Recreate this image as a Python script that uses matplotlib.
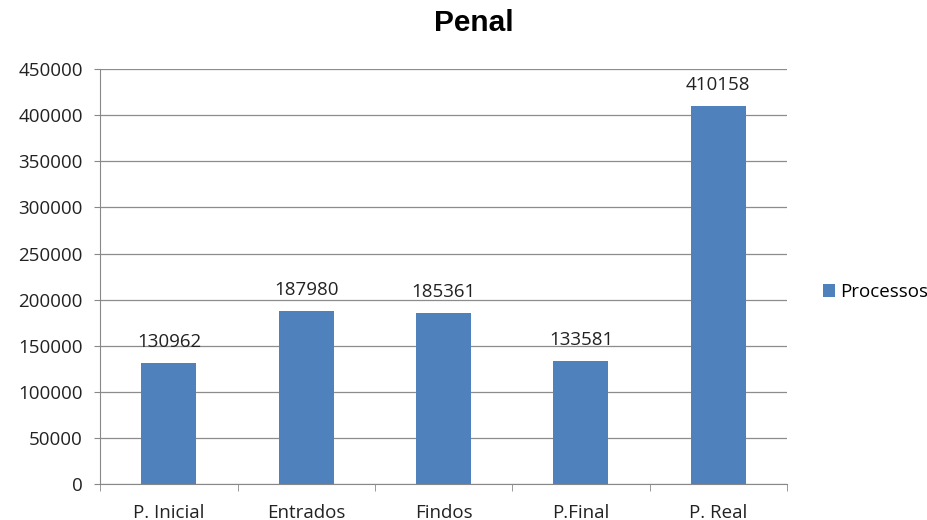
import matplotlib
matplotlib.use('Agg')
import matplotlib.pyplot as plt
import numpy as np

# Data
categories = ['P. Inicial', 'Entrados', 'Findos', 'P.Final', 'P. Real']
processos = [130962, 187980, 185361, 133581, 410158]
yticks = np.arange(0, 450001, 50000)

plt.rcParams['font.family'] = ['Open Sans', 'DejaVu Sans']
fs = 13.5

fig = plt.figure(figsize=(9.28, 5.20), dpi=100)
ax = fig.add_axes([0.108, 0.069, 0.740, 0.798])

x = np.arange(len(categories))
bars = ax.bar(x, processos, width=0.4, color='#4F81BD', label='Processos', zorder=3)

for xi, v in zip(x, processos):
    ax.text(xi, v + 13000, str(v), ha='center', va='bottom', fontsize=fs, color='#222222')

ax.set_xlim(-0.5, len(categories) - 0.5)
ax.set_ylim(0, 450000)
ax.set_yticks(yticks)
ax.set_yticklabels([str(t) for t in yticks], fontsize=fs, color='#222222')
ax.set_xticks(x)
ax.set_xticklabels(categories, fontsize=fs, color='#222222')
ax.set_xticks(np.arange(-0.5, len(categories)), minor=True)
ax.tick_params(axis='x', which='major', length=0, pad=14)
ax.tick_params(axis='x', which='minor', length=5, color='#888888')
ax.tick_params(axis='y', length=4.5, color='#888888', pad=8)

ax.grid(axis='y', color='#8c8c8c', linewidth=0.9, zorder=0)
for s in ['top', 'right']:
    ax.spines[s].set_visible(False)
ax.spines['left'].set_color('#888888')
ax.spines['bottom'].set_color('#888888')

fig.text(0.511, 1 - 23 / 520, 'Penal', ha='center', va='center', fontsize=21.5,
         fontweight='bold', family=['Liberation Sans', 'DejaVu Sans'])

fig.legend(handles=[bars], labels=['Processos'], loc='center left', bbox_to_anchor=(0.8865, 0.4385),
           frameon=False, fontsize=fs, handlelength=0.65, handleheight=0.65, handletextpad=0.3,
           borderpad=0, borderaxespad=0)

plt.savefig('out.png', dpi=100)
